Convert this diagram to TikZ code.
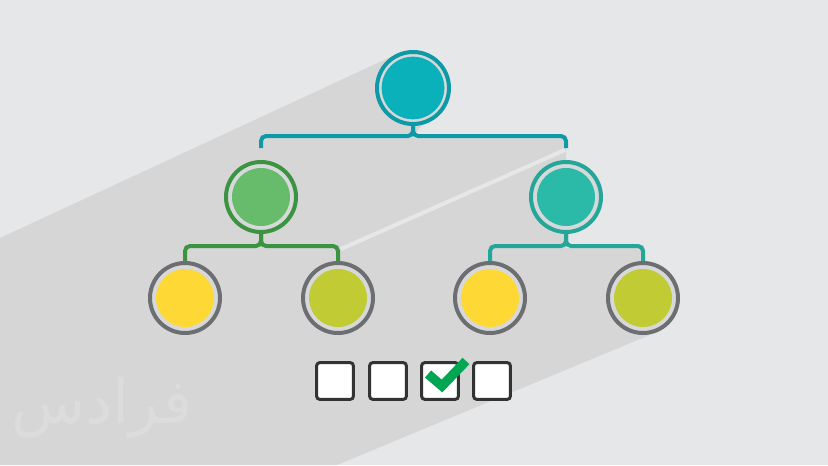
\documentclass[tikz,border=0pt]{standalone}
\usepackage{fontspec}
\usepackage{tikz}
\usetikzlibrary{calc}
\newfontfamily\arabicfont[Script=Arabic]{DejaVu Sans}
\TeXXeTstate=1
\definecolor{bggray}{HTML}{E6E7E8}
\definecolor{shadowgray}{HTML}{D6D6D6}
\definecolor{gapgray}{HTML}{D7D8D9}
\definecolor{wmgray}{HTML}{DCDCDC}
\definecolor{rootring}{HTML}{0D9AA6}
\definecolor{rootfill}{HTML}{0AB1BA}
\definecolor{greenring}{HTML}{3A9440}
\definecolor{greenfill}{HTML}{67BC6B}
\definecolor{tealring}{HTML}{24A699}
\definecolor{tealfill}{HTML}{2BBAA7}
\definecolor{leafring}{HTML}{6D6E71}
\definecolor{yellowfill}{HTML}{FED834}
\definecolor{olivefill}{HTML}{C1CC34}
\definecolor{boxgray}{HTML}{333333}
\definecolor{tickgreen}{HTML}{00A651}

\begin{document}
\begin{tikzpicture}[x=0.3mm,y=-0.3mm,
  ring/.style={circle,draw=#1,line width=1.2mm,fill=gapgray,inner sep=0pt,minimum size=21mm},
  core/.style 2 args={path picture={\fill[#1] (path picture bounding box.center) circle (#2);}},
  link/.style={draw=#1,line width=1.2mm,rounded corners=1.5mm},
  box/.style={draw=boxgray,fill=white,line width=0.9mm,rounded corners=0.9mm,minimum size=11mm,inner sep=0pt},
  tick/.style={draw=tickgreen,line width=2.8mm,line join=miter}]
\useasboundingbox (0,0) rectangle (828,465);
\fill[bggray] (0,0) rectangle (828,465);
% long shadow
\fill[shadowgray] (397,54) -- (0,238) -- (0,465) -- (337,465) -- (657,332) -- (679,295) -- (645,262) -- (645,248) -- (566,248) -- (566,137) -- (413,137) -- (450,88) -- (413,51) -- cycle;
\draw[bggray,line width=1.2mm] (341,249) -- (565,150);
\node[font=\arabicfont\fontsize{52}{52}\selectfont,text=wmgray] (wm) at (102,408) {\beginR فرادس\endR};

\node[ring=rootring,minimum size=21.6mm,core={rootfill}{9.4mm}] (n0) at (413,88) {};
\node[ring=greenring,core={greenfill}{8.7mm}] (n1) at (261,197) {};
\node[ring=tealring,core={tealfill}{8.7mm}] (n2) at (566,197) {};
\node[ring=leafring,core={yellowfill}{8.7mm}] (n3) at (185,298) {};
\node[ring=leafring,core={olivefill}{8.7mm}] (n4) at (338,298) {};
\node[ring=leafring,core={yellowfill}{8.7mm}] (n5) at (490,298) {};
\node[ring=leafring,core={olivefill}{8.7mm}] (n6) at (643,298) {};

\draw[link=rootring] (n0.south) |- ($(n1.north)+(0,-24)$) -- ($(n1.north)+(0,-12)$);
\draw[link=rootring] (n0.south) |- ($(n2.north)+(0,-24)$) -- ($(n2.north)+(0,-12)$);
\draw[link=greenring] (n1.south) |- ($(n3.north)+(0,-15)$) -- (n3.north);
\draw[link=greenring] (n1.south) |- ($(n4.north)+(0,-15)$) -- (n4.north);
\draw[link=tealring] (n2.south) |- ($(n5.north)+(0,-15)$) -- (n5.north);
\draw[link=tealring] (n2.south) |- ($(n6.north)+(0,-15)$) -- (n6.north);

% answer boxes
\node[box] (c1) at (335,381) {};
\node[box] (c2) at (388,381) {};
\node[box] (c3) at (440,381) {};
\node[box] (c4) at (492,381) {};
\draw[tick] ($(c3.center)+(-12,-7)$) -- ($(c3.center)+(2,5)$) -- ($(c3.center)+(26,-20)$);
\end{tikzpicture}
\end{document}
